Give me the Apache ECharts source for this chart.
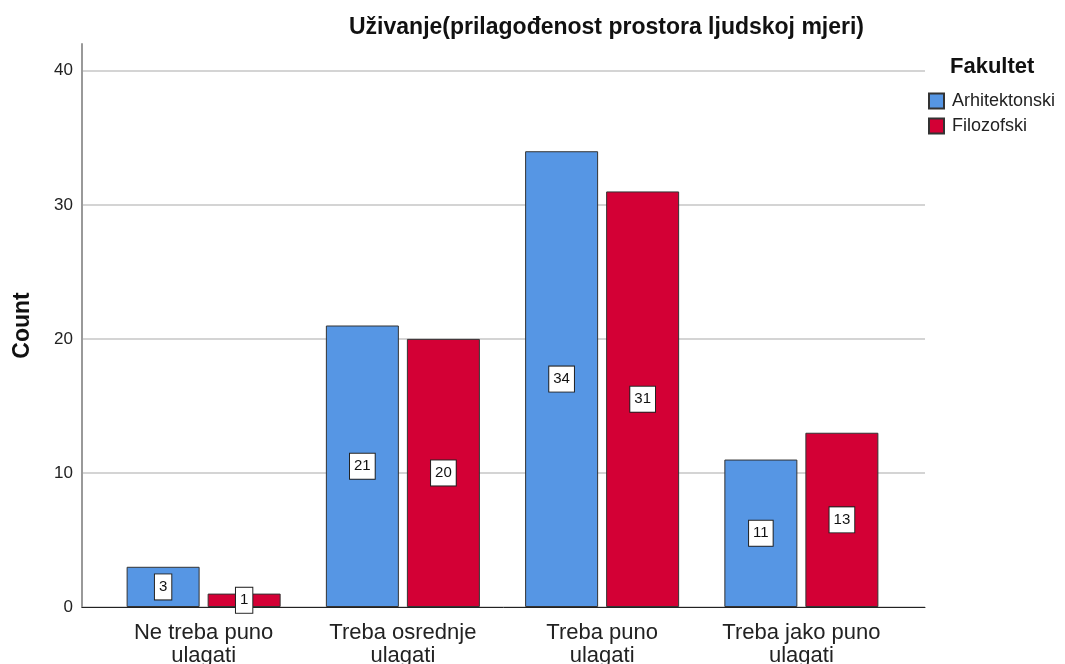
<!DOCTYPE html>
<html>
<head>
<meta charset="utf-8">
<script src="https://cdn.jsdelivr.net/npm/echarts@6/dist/echarts.min.js"></script>
<style>
  html, body { margin: 0; padding: 0; background: #fff; }
  #chart { width: 1065px; height: 664px; }
</style>
</head>
<body>
<div id="chart"></div>
<script>
  // podaci
  const categories = ['Ne treba puno\nulagati', 'Treba osrednje\nulagati', 'Treba puno\nulagati', 'Treba jako puno\nulagati'];
  const arhitektonski = [3, 21, 34, 11];
  const filozofski = [1, 20, 31, 13];
  const yMax = 42;
  const yStep = 10;

  const font = "'Liberation Sans', Arial, sans-serif";
  const chart = echarts.init(document.getElementById('chart'));

  const labelBox = {
    show: true,
    position: 'inside',
    formatter: '{c}',
    backgroundColor: '#fff',
    borderColor: '#222',
    borderWidth: 1,
    padding: [6, 4, 4, 4],
    fontSize: 15,
    fontFamily: font,
    color: '#111'
  };

  chart.setOption({
    animation: false,
    textStyle: {fontFamily: font},
    title: [
      {
        text: 'Uživanje(prilagođenost prostora ljudskoj mjeri)',
        left: 344, top: 11,
        textStyle: {fontSize: 23, fontWeight: 'bold', color: '#111'}
      },
      {
        text: 'Fakultet',
        left: 945, top: 51,
        textStyle: {fontSize: 22, fontWeight: 'bold', color: '#111'}
      }
    ],
    legend: {
      orient: 'vertical',
      left: 928, top: 92, padding: 0,
      itemWidth: 15, itemHeight: 15, itemGap: 7,
      icon: 'rect',
      textStyle: {fontSize: 18, lineHeight: 18, color: '#222', padding: [0, 0, 0, 3]},
      data: ['Arhitektonski', 'Filozofski']
    },
    grid: [
      {left: 82, right: 140, top: 44, bottom: 57, outerBoundsMode: 'none', containLabel: false},
      {left: 104, right: 164, top: 44, bottom: 57, outerBoundsMode: 'none', containLabel: false}
    ],
    xAxis: [
      {
        gridIndex: 0, type: 'value', min: 0, max: 1,
        axisLine: {show: true, onZero: false, lineStyle: {color: '#222', width: 1}},
        axisTick: {show: false}, axisLabel: {show: false}, splitLine: {show: false}
      },
      {
        gridIndex: 1, type: 'category', data: categories,
        axisLine: {show: false}, axisTick: {show: false},
        axisLabel: {interval: 0, fontSize: 22, lineHeight: 23, margin: 14, color: '#222'}
      }
    ],
    yAxis: [
      {
        gridIndex: 0, type: 'value', min: 0, max: yMax, interval: yStep,
        name: 'Count', nameLocation: 'middle', nameGap: 48,
        nameTextStyle: {fontSize: 23, fontWeight: 'bold', color: '#111'},
        axisLine: {show: true, onZero: false, lineStyle: {color: '#999', width: 2}},
        axisTick: {show: false},
        axisLabel: {fontSize: 17, color: '#222', margin: 9, showMaxLabel: false},
        splitLine: {show: true, showMaxLine: false, lineStyle: {color: '#d4d4d4', width: 2}}
      },
      {
        gridIndex: 1, type: 'value', min: 0, max: yMax, show: false
      }
    ],
    series: [
      {
        name: 'Arhitektonski', type: 'bar', xAxisIndex: 1, yAxisIndex: 1,
        data: arhitektonski, barWidth: 73, barGap: '11%',
        itemStyle: {color: '#5696E4', borderColor: '#333', borderWidth: 1},
        label: labelBox
      },
      {
        name: 'Filozofski', type: 'bar', xAxisIndex: 1, yAxisIndex: 1,
        data: filozofski, barWidth: 73,
        itemStyle: {color: '#D30035', borderColor: '#333', borderWidth: 1},
        label: labelBox
      }
    ]
  });
</script>
</body>
</html>
